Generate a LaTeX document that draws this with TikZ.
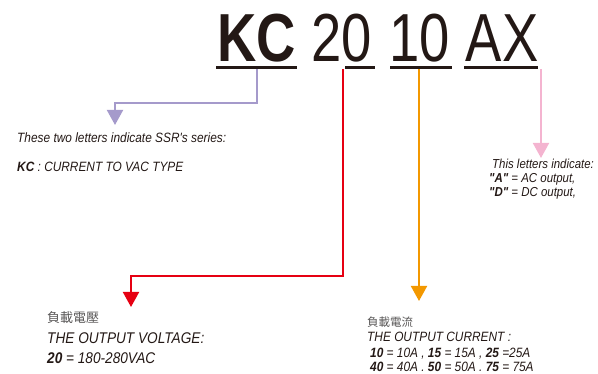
\documentclass[tikz,border=0pt]{standalone}
\usepackage{fontspec}
\setmainfont{Liberation Sans}
\newfontfamily\condf[FakeStretch=0.88]{Liberation Sans}
\newfontfamily\titlef[FakeStretch=0.8]{Liberation Sans}
\newfontfamily\cjkf{Noto Sans CJK TC}
\usetikzlibrary{arrows.meta}
\definecolor{ink}{HTML}{231815}
\definecolor{cjkgray}{HTML}{595757}
\definecolor{lav}{HTML}{A59ACB}
\definecolor{redc}{HTML}{E60012}
\definecolor{orangec}{HTML}{F39800}
\definecolor{pinkc}{HTML}{F4B4D0}
\tikzset{
  titletxt/.style={anchor=base, inner sep=0pt, text=ink, font=\titlef\fontsize{68}{70}\selectfont},
  txt/.style={anchor=base west, inner sep=0pt, text=ink},
  cjktxt/.style={anchor=base west, inner sep=0pt, text=cjkgray},
  uline/.style={draw=ink, line width=3pt},
  conn/.style={line width=2pt, -{Triangle[width=16pt,length=15pt]}},
}
\begin{document}
\begin{tikzpicture}[x=1pt,y=-1pt]
\useasboundingbox (0,0) rectangle (598,374);
% title
\node[titletxt, font=\titlef\bfseries\fontsize{68}{70}\selectfont] (kc) at (257,62) {KC};
\node[titletxt] (n20) at (342,62) {20};
\node[titletxt] (n10) at (420,62) {10};
\node[titletxt] (ax) at (502,62) {AX};
% underlines
\coordinate (kcL) at (216,68); \coordinate (kcR) at (297,68);
\coordinate (twL) at (345,68); \coordinate (twR) at (375,68);
\coordinate (tnL) at (390,68); \coordinate (tnR) at (452,68);
\coordinate (axL) at (464,68); \coordinate (axR) at (538,68);
\draw[uline] (kcL) -- (kcR);
\draw[uline] (twL) -- (twR);
\draw[uline] (tnL) -- (tnR);
\draw[uline] (axL) -- (axR);
% connector coordinates
\coordinate (pS) at (257,69.5); \coordinate (pT) at (115,125);
\coordinate (rS) at (343,69.5); \coordinate (rT) at (131,307);
\coordinate (oS) at (419,69.5); \coordinate (oT) at (419,301);
\coordinate (kS) at (541,69.5); \coordinate (kT) at (541,158);
\draw[conn, draw=lav] (pS) -- ++(0,34) -| (pT);
\draw[conn, draw=redc] (rS) -- ++(0,207) -| (rT);
\draw[conn, draw=orangec] (oS) -- (oT);
\draw[conn, draw=pinkc] (kS) -- (kT);
% left top texts
\node[txt, font=\condf\itshape\fontsize{13.5}{16}\selectfont] (s1) at (17,143) {These two letters indicate SSR's series:};
\node[txt, font=\condf\itshape\fontsize{13.5}{16}\selectfont] (s2) at (17,172) {\textbf{KC} : CURRENT TO VAC TYPE};
% right texts
\node[txt, font=\condf\itshape\fontsize{13}{15}\selectfont] (a1) at (492,169) {This letters indicate:};
\node[txt, font=\condf\itshape\fontsize{13}{15}\selectfont] (a2) at (489,183) {\textbf{"A"} = AC output,};
\node[txt, font=\condf\itshape\fontsize{13}{15}\selectfont] (a3) at (489,197) {\textbf{"D"} = DC output,};
% bottom left
\node[cjktxt, font=\cjkf\fontsize{13}{15}\selectfont] (v0) at (47,323) {負載電壓};
\node[txt, font=\condf\itshape\fontsize{15.5}{18}\selectfont] (v1) at (47,344) {THE OUTPUT VOLTAGE:};
\node[txt, font=\condf\itshape\fontsize{15.5}{18}\selectfont] (v2) at (47,364) {\textbf{20} = 180-280VAC};
% bottom right
\node[cjktxt, font=\cjkf\fontsize{11.5}{14}\selectfont] (c0) at (367,327) {負載電流};
\node[txt, font=\condf\itshape\fontsize{13.5}{16}\selectfont] (c1) at (367,342) {THE OUTPUT CURRENT :};
\node[txt, font=\condf\itshape\fontsize{13.5}{16}\selectfont] (c2) at (370,358) {\textbf{10} = 10A , \textbf{15} = 15A , \textbf{25} =25A};
\node[txt, font=\condf\itshape\fontsize{13.5}{16}\selectfont] (c3) at (370,371.5) {\textbf{40} = 40A . \textbf{50} = 50A . \textbf{75} = 75A};
\end{tikzpicture}
\end{document}
